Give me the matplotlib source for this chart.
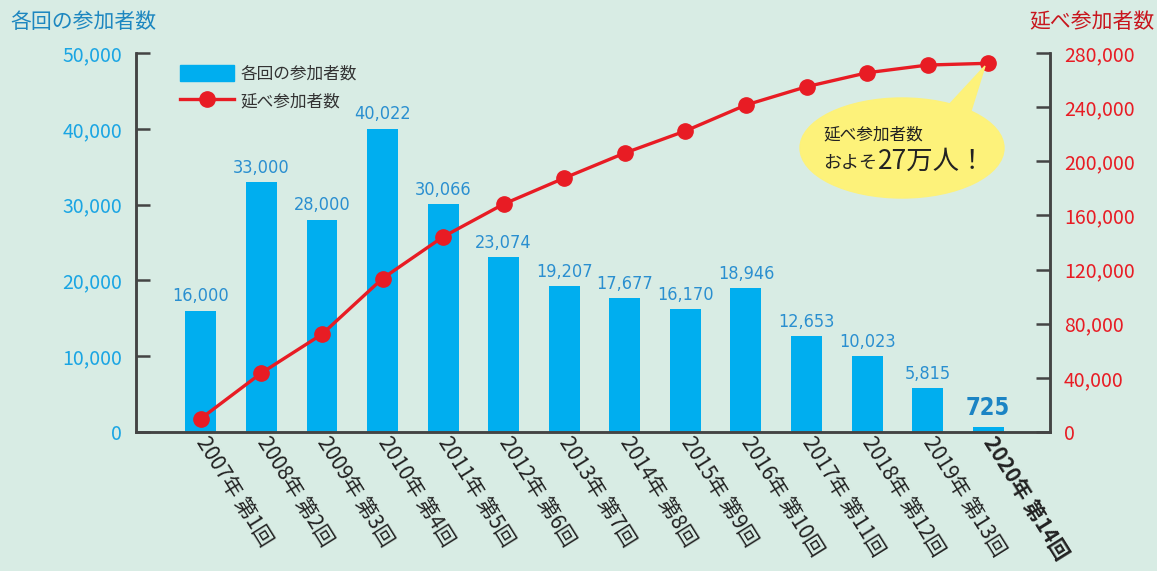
import matplotlib
matplotlib.use('Agg')
import matplotlib.pyplot as plt
from matplotlib.patches import Ellipse, Polygon, Patch
from matplotlib.lines import Line2D
import matplotlib.ticker as ticker

plt.rcParams['font.family'] = ['Noto Sans CJK JP', 'DejaVu Sans']

years = ['2007年', '2008年', '2009年', '2010年', '2011年', '2012年', '2013年',
         '2014年', '2015年', '2016年', '2017年', '2018年', '2019年', '2020年']
rounds = ['第1回', '第2回', '第3回', '第4回', '第5回', '第6回', '第7回',
          '第8回', '第9回', '第10回', '第11回', '第12回', '第13回', '第14回']
participants = [16000, 33000, 28000, 40022, 30066, 23074, 19207,
                17677, 16170, 18946, 12653, 10023, 5815, 725]
# 延べ参加者数
total = [9900, 43600, 72200, 113400, 144200, 168400, 187600,
         206100, 222400, 241600, 255100, 265400, 271100, 272400]

left_ticks = [0, 10000, 20000, 30000, 40000, 50000]
right_ticks = [0, 40000, 80000, 120000, 160000, 200000, 240000, 280000]

bg = '#d8ece4'
bar_c = '#00aeef'
line_c = '#e81c24'
blue_txt = '#1aa5e3'
red_txt = '#e81c24'

fig = plt.figure(figsize=(11.57, 5.71), dpi=100, facecolor=bg)
ax = fig.add_axes([136/1157, 1-432/571, 914/1157, 379/571])
ax.set_facecolor(bg)
x = list(range(len(years)))

ax.bar(x, participants, width=0.51, color=bar_c, zorder=2)
ax.set_ylim(0, 50000)
ax.set_xlim(-1.07, 14.02)
ax.set_yticks(left_ticks)
ax.yaxis.set_major_formatter(ticker.FuncFormatter(lambda v, p: f'{int(v):,}'))
ax.tick_params(axis='y', direction='in', length=10, width=1.8, color='#444',
               labelcolor=blue_txt, labelsize=14, pad=10)
ax.set_xticks(x)
labels = [y + ' ' + r for y, r in zip(years, rounds)]
ax.set_xticklabels(labels, rotation=-58, ha='left', va='center',
                   rotation_mode='anchor', fontsize=15, color='#222')
ax.get_xticklabels()[-1].set_fontweight('bold')
ax.tick_params(axis='x', length=0, pad=5)
for s in ['left', 'bottom', 'right']:
    ax.spines[s].set_color('#444')
    ax.spines[s].set_linewidth(1.8)
ax.spines['top'].set_visible(False)

for i, v in enumerate(participants):
    if i == len(participants) - 1:
        ax.text(i, v + 900, f'{v:,}', ha='center', va='bottom', fontsize=17,
                fontweight='bold', color='#1b84c4', family='DejaVu Sans',
                fontstretch='condensed')
    else:
        ax.text(i, v + 700, f'{v:,}', ha='center', va='bottom', fontsize=13,
                color='#2a8fd0', family='DejaVu Sans', fontstretch='condensed')

ax2 = ax.twinx()
ax2.plot(x, total, color=line_c, lw=2.4, marker='o', ms=11, zorder=3)
ax2.set_ylim(0, 280000)
ax2.set_yticks(right_ticks)
ax2.yaxis.set_major_formatter(ticker.FuncFormatter(lambda v, p: f'{int(v):,}'))
ax2.tick_params(axis='y', direction='in', length=10, width=1.8, color='#444',
                labelcolor=red_txt, labelsize=14, pad=10)
for s in ['left', 'bottom', 'right']:
    ax2.spines[s].set_color('#444')
    ax2.spines[s].set_linewidth(1.8)
ax2.spines['top'].set_visible(False)

fig.text(10/1157, 1-22/571, '各回の参加者数', fontsize=15, color='#1d87c0',
         va='center', ha='left')
fig.text(1155/1157, 1-22/571, '延べ参加者数', fontsize=15, color='#c8161e',
         va='center', ha='right')

# legend
handles = [Patch(color=bar_c), Line2D([0], [0], color=line_c, lw=2.4, marker='o', ms=11)]
leg = ax.legend(handles, ['各回の参加者数', '延べ参加者数'], loc='upper left',
                bbox_to_anchor=(37/914, 1-5/379), frameon=False, fontsize=12,
                handlelength=3.25, handleheight=1.1, handletextpad=0.4,
                labelspacing=0.6, borderaxespad=0)
for t in leg.get_texts():
    t.set_color('#333')

# speech bubble (figure pixel coords)
ov = fig.add_axes([0, 0, 1, 1], facecolor='none')
ov.set_xlim(0, 1157)
ov.set_ylim(571, 0)
ov.axis('off')
ov.add_patch(Polygon([(946, 108), (970, 114), (985, 66)], closed=True,
                     color='#fdf27a', zorder=1))
ov.add_patch(Ellipse((902, 148), 204, 100, color='#fdf27a', zorder=1))
ov.text(823, 135, '延べ参加者数', fontsize=12, color='#222', va='center', ha='left', zorder=2)
ov.text(823, 163, 'およそ', fontsize=13, color='#222', va='center', ha='left', zorder=2)
ov.text(878, 161, '27万人！', fontsize=19, color='#222', va='center', ha='left', zorder=2)

fig.savefig('out.png', dpi=100, facecolor=bg)
